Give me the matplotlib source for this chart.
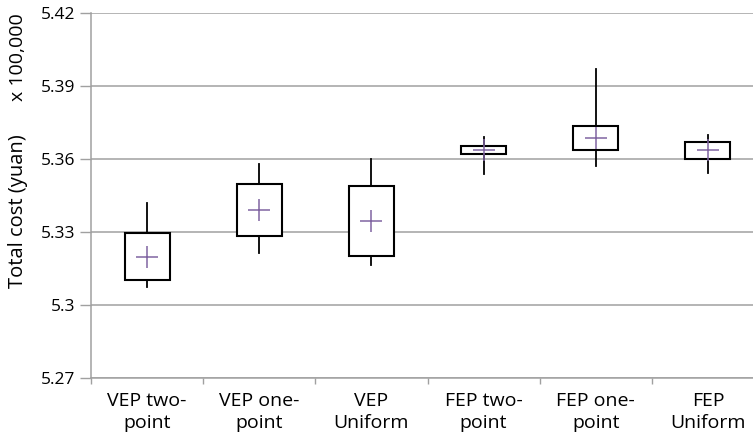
import matplotlib
matplotlib.use("Agg")
import matplotlib.pyplot as plt

categories = ["VEP two-\npoint", "VEP one-\npoint", "VEP\nUniform", "FEP two-\npoint", "FEP one-\npoint", "FEP\nUniform"]
whisker_low = [5.3074, 5.3214, 5.3163, 5.3536, 5.3571, 5.3540]
q1 = [5.3103, 5.3282, 5.3199, 5.3620, 5.3636, 5.3600]
q3 = [5.3293, 5.3495, 5.3489, 5.3653, 5.3736, 5.3669]
whisker_high = [5.3417, 5.3578, 5.3599, 5.3690, 5.3967, 5.3696]
means = [5.3197, 5.3388, 5.3343, 5.3637, 5.3686, 5.3636]
yticks = [5.27, 5.30, 5.33, 5.36, 5.39, 5.42]
ytick_labels = ["5.27", "5.3", "5.33", "5.36", "5.39", "5.42"]

plt.rcParams['font.family'] = ['Open Sans', 'DejaVu Sans']

fig = plt.figure(figsize=(7.53, 4.40), dpi=100)
ax = fig.add_axes([91/753, 1-377.7/440, (764-91)/753, (377.7-12.7)/440])

stats = []
for i in range(len(categories)):
    stats.append(dict(whislo=whisker_low[i], q1=q1[i], med=(q1[i]+q3[i])/2,
                      q3=q3[i], whishi=whisker_high[i], mean=means[i], fliers=[]))

positions = [i + 0.5 for i in range(len(categories))]
ax.bxp(stats, positions=positions, widths=0.4, showmeans=True, showcaps=False,
       showfliers=False, patch_artist=True,
       boxprops=dict(facecolor='white', edgecolor='black', linewidth=1.5),
       whiskerprops=dict(color='black', linewidth=1.3),
       medianprops=dict(linewidth=0),
       meanprops=dict(marker='+', markeredgecolor='#8064A2', markersize=16, markeredgewidth=1.1),
       zorder=3)

ax.set_xlim(0, 6)
ax.set_ylim(5.27, 5.42)
ax.set_yticks(yticks)
ax.set_yticklabels(ytick_labels)
ax.set_xticks([i for i in range(7)])
ax.set_xticklabels([])
ax.set_xticks(positions, minor=True)
ax.set_xticklabels(categories, minor=True, linespacing=1.3)
ax.tick_params(axis='x', which='minor', length=0, pad=10, labelsize=14)
ax.tick_params(axis='x', which='major', length=4.5, width=1, color='#A0A0A0', direction='out')
ax.tick_params(axis='y', length=8, width=1, color='#A0A0A0', direction='out', labelsize=12.5, pad=3)

ax.yaxis.grid(True, color='#A0A0A0', linewidth=1.1, zorder=0)
ax.set_axisbelow(True)
for s in ['top', 'right']:
    ax.spines[s].set_visible(False)
for s in ['left', 'bottom']:
    ax.spines[s].set_color('#A0A0A0')
    ax.spines[s].set_linewidth(1.1)

fig.text(18/753, 1-211/440, "Total cost (yuan)", rotation=90, ha='center', va='center', fontsize=14.5)
fig.text(18/753, 1-57/440, "x 100,000", rotation=90, ha='center', va='center', fontsize=14)

fig.savefig("out.png", dpi=100)
